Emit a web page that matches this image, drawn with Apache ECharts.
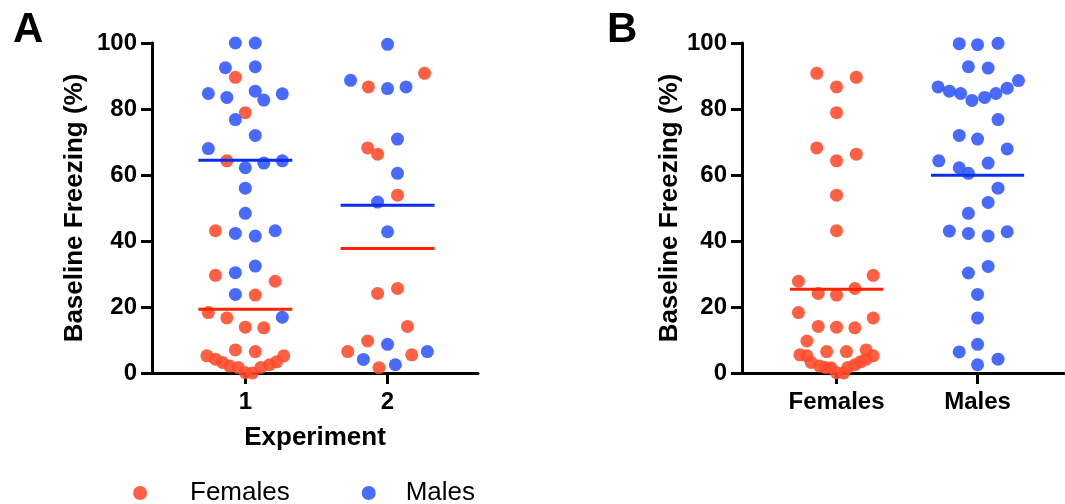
<!DOCTYPE html>
<html>
<head>
<meta charset="utf-8">
<title>Baseline Freezing</title>
<script src="https://cdn.jsdelivr.net/npm/echarts@6/dist/echarts.min.js"></script>
<style>
  html, body { margin: 0; padding: 0; background: #fff; }
  #chart { width: 1065px; height: 504px; }
</style>
</head>
<body>
<div id="chart"></div>
<script>
// categories
const experimentLabels = ['1', '2']
const sexLabels = ['Females', 'Males']

// Panel A - experiment 1
const femalesExp1 = [89.6, 78.9, 64.3, 43.1, 29.6, 27.8, 23.6, 18.3, 16.7, 13.9, 13.7, 7, 6.5, 5.2, 4.2, 3.2, 2.1, 1.7, 0.1, 0, 1.7, 2.5, 3.4, 5.2]
const femalesExp1Jitter = [-0.07, 0, -0.13, -0.21, -0.21, 0.21, 0.07, -0.26, -0.13, 0, 0.13, -0.07, 0.07, -0.27, -0.21, -0.16, -0.11, -0.05, 0, 0.05, 0.11, 0.17, 0.22, 0.27]
const malesExp1 = [100, 100, 92.5, 92.8, 84.7, 83.5, 85.4, 82.7, 84.6, 76.8, 72, 68, 62.2, 63.6, 64.3, 56, 48.4, 42.3, 41.5, 43.1, 30.4, 32.4, 23.8, 16.9]
const malesExp1Jitter = [-0.07, 0.07, -0.14, 0.07, -0.26, -0.13, 0.07, 0.13, 0.26, -0.07, 0.07, -0.26, 0, 0.13, 0.26, 0, 0, -0.07, 0.07, 0.21, -0.07, 0.07, -0.07, 0.26]

// Panel A - experiment 2
const femalesExp2 = [90.8, 86.7, 68.2, 66.3, 53.9, 24.1, 25.6, 14.1, 9.7, 6.5, 5.5, 1.6]
const femalesExp2Jitter = [0.26, -0.135, -0.14, -0.07, 0.07, -0.07, 0.07, 0.14, -0.14, -0.28, 0.17, -0.06]
const malesExp2 = [99.6, 88.7, 86.2, 86.7, 70.9, 60.5, 51.8, 42.8, 8.7, 4.1, 2.5, 6.5]
const malesExp2Jitter = [0, -0.26, 0, 0.13, 0.07, 0.07, -0.07, 0, 0, -0.17, 0.055, 0.28]

// Panel B - pooled
const femalesAll = [90.8, 89.6, 86.7, 78.9, 68.2, 66.3, 64.3, 53.9, 43.1, 27.8, 29.6, 24.1, 23.6, 25.6, 18.3, 16.7, 14.1, 13.9, 13.7, 9.7, 6.5, 6.5, 7,
  5.5, 5.2, 3.2, 2.1, 1.7, 1.6, 0.1, 0, 1.7, 2.5, 3.4, 4.2, 5.2]
const femalesAllJitter = [-0.14, 0.14, 0, 0, -0.14, 0.14, 0, 0, 0, -0.27, 0.26, -0.13, 0, 0.13, -0.27, 0.26, -0.13, 0, 0.13, -0.21, -0.07, 0.07, 0.21,
  -0.26, -0.21, -0.18, -0.12, -0.08, -0.04, 0, 0.05, 0.08, 0.13, 0.17, 0.21, 0.26]
const malesAll = [99.8, 99.5, 99.9, 92.8, 92.4, 86.7, 85.4, 84.7, 82.6, 83.5, 84.7, 86.3, 88.6, 76.8, 72, 70.9, 67.9, 64.3, 62.2, 63.6, 60.5, 56,
  51.7, 48.4, 43, 42.3, 41.5, 42.8, 32.3, 30.3, 23.8, 16.7, 8.7, 6.4, 4.2, 2.5]
const malesAllJitter = [-0.13, 0, 0.145, -0.065, 0.075, -0.28, -0.2, -0.12, -0.04, 0.05, 0.13, 0.21, 0.29, 0.145, -0.13, 0, 0.21, -0.275, -0.13, 0.075, -0.065, 0.145,
  0.075, -0.065, -0.2, -0.065, 0.075, 0.21, 0.075, -0.065, 0, 0, 0, -0.13, 0.145, 0]

// group means
const femaleMeansA = [19.3, 37.7]
const maleMeansA = [64.5, 50.8]
const femaleMeanB = 25.4
const maleMeanB = 59.9

const yTicks = [0, 20, 40, 60, 80, 100]

const RED = 'rgb(255, 74, 42)'
const BLUE = 'rgb(47, 85, 255)'
const RED_LINE = '#ff2200'
const BLUE_LINE = '#0a2ef0'
const FONT = '"Liberation Sans", Arial, Helvetica, sans-serif'
const HALF = 0.33 // half width of the mean bar, in category units

const toPoints = (vals, jit, pos) => vals.map((v, i) => [pos + jit[i], v])

const meanLine = (name, mean, pos, color, axisIdx) => ({
  name: name,
  type: 'line',
  xAxisIndex: axisIdx,
  yAxisIndex: axisIdx,
  data: [[pos - HALF, mean], [pos + HALF, mean]],
  symbol: 'none',
  silent: true,
  z: 5,
  lineStyle: { color: color, width: 3 }
})

const scatter = (name, data, color, axisIdx) => ({
  name: name,
  type: 'scatter',
  xAxisIndex: axisIdx,
  yAxisIndex: axisIdx,
  data: data,
  symbolSize: 13,
  itemStyle: { color: color, opacity: 0.88 }
})

const axisCommon = {
  axisLine: { show: true, onZero: false, lineStyle: { color: '#000', width: 3 } },
  axisTick: { show: true, length: 11, lineStyle: { color: '#000', width: 3 } },
  splitLine: { show: false }
}

const makeXAxis = (idx, min, max, labels, name) => ({
  ...axisCommon,
  type: 'value',
  gridIndex: idx,
  min: min,
  max: max,
  axisTick: { ...axisCommon.axisTick, customValues: [1, 2] },
  axisLabel: {
    customValues: [1, 2],
    formatter: (v) => labels[Math.round(v) - 1],
    color: '#000',
    fontFamily: FONT,
    fontWeight: 'bold',
    fontSize: 24,
    margin: 17
  },
  name: name,
  nameLocation: 'middle',
  nameGap: 52,
  nameTextStyle: { color: '#000', fontFamily: FONT, fontWeight: 'bold', fontSize: 26 }
})

const makeYAxis = (idx, gap) => ({
  ...axisCommon,
  type: 'value',
  gridIndex: idx,
  min: yTicks[0],
  max: yTicks[yTicks.length - 1],
  interval: 20,
  axisLabel: { color: '#000', fontFamily: FONT, fontWeight: 'bold', fontSize: 24, margin: 15 },
  name: 'Baseline Freezing (%)',
  nameLocation: 'middle',
  nameGap: gap,
  nameTextStyle: { color: '#000', fontFamily: FONT, fontWeight: 'bold', fontSize: 26 }
})

const chart = echarts.init(document.getElementById('chart'), null, { renderer: 'canvas' })

const option = {
  backgroundColor: '#fff',
  animation: false,
  title: [
    { text: 'A', left: 8, top: 4, textStyle: { fontFamily: FONT, fontWeight: 'bold', fontSize: 42, color: '#000' } },
    { text: 'B', left: 602, top: 4, textStyle: { fontFamily: FONT, fontWeight: 'bold', fontSize: 42, color: '#000' } }
  ],
  legend: {
    data: [
      { name: sexLabels[0], textStyle: { padding: [0, 0, 0, 38] } },
      { name: sexLabels[1], textStyle: { padding: [0, 0, 0, 25] } }
    ],
    left: 128,
    top: 475,
    icon: 'circle',
    itemWidth: 14,
    itemHeight: 14,
    itemGap: 72,
    textStyle: { fontFamily: FONT, fontSize: 26, color: '#000' }
  },
  grid: [
    { left: 152, top: 43, width: 326, bottom: 131 },
    { left: 742, top: 43, right: 0, bottom: 131 }
  ],
  xAxis: [
    makeXAxis(0, 0.344, 2.636, experimentLabels, 'Experiment'),
    makeXAxis(1, 0.33, 2.62, sexLabels, '')
  ],
  yAxis: [
    makeYAxis(0, 64),
    makeYAxis(1, 58)
  ],
  series: [
    scatter('Females', toPoints(femalesExp1, femalesExp1Jitter, 1).concat(toPoints(femalesExp2, femalesExp2Jitter, 2)), RED, 0),
    scatter('Males', toPoints(malesExp1, malesExp1Jitter, 1).concat(toPoints(malesExp2, malesExp2Jitter, 2)), BLUE, 0),
    scatter('Females', toPoints(femalesAll, femalesAllJitter, 1), RED, 1),
    scatter('Males', toPoints(malesAll, malesAllJitter, 2), BLUE, 1),
    meanLine('meanF1', femaleMeansA[0], 1, RED_LINE, 0),
    meanLine('meanF2', femaleMeansA[1], 2, RED_LINE, 0),
    meanLine('meanM1', maleMeansA[0], 1, BLUE_LINE, 0),
    meanLine('meanM2', maleMeansA[1], 2, BLUE_LINE, 0),
    meanLine('meanFB', femaleMeanB, 1, RED_LINE, 1),
    meanLine('meanMB', maleMeanB, 2, BLUE_LINE, 1)
  ]
}

chart.setOption(option)
</script>
</body>
</html>
